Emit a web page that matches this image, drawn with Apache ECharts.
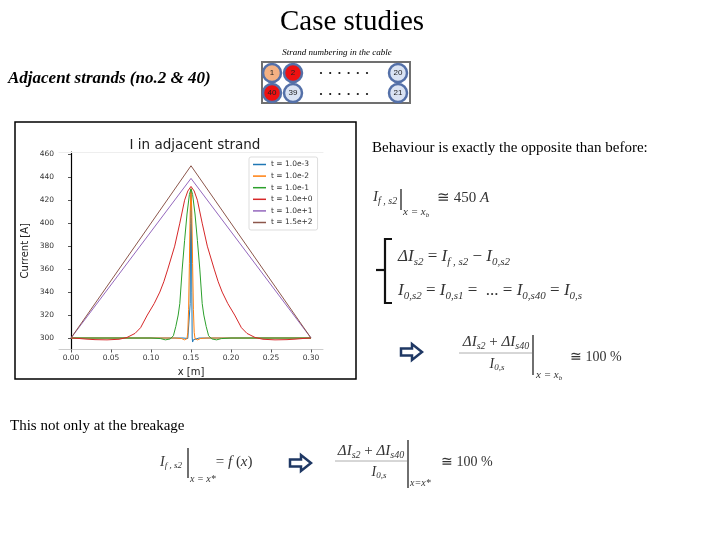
<!DOCTYPE html>
<html>
<head>
<meta charset="utf-8">
<script src="https://cdn.jsdelivr.net/npm/echarts@6/dist/echarts.min.js"></script>
<style>
  html, body { margin: 0; padding: 0; background: #fff; }
  #main { width: 720px; height: 540px; }
</style>
</head>
<body>
<div id="main"></div>
<script>
// legend names
var seriesNames = ['t = 1.0e-3', 't = 1.0e-2', 't = 1.0e-1', 't = 1.0e+0', 't = 1.0e+1', 't = 1.5e+2'];
var seriesColors = ['#1f77b4', '#ff7f0e', '#2ca02c', '#d62728', '#9467bd', '#8c564b'];

// ticks
var xTicks = [0, 0.05, 0.10, 0.15, 0.20, 0.25, 0.30];
var yTicks = [300, 320, 340, 360, 380, 400, 420, 440, 460];

// t = 1.0e-3
var x1 = [0, 0.14, 0.146, 0.148, 0.149, 0.1495, 0.15, 0.1505, 0.151, 0.1515, 0.152, 0.153, 0.155, 0.16, 0.3];
var y1 = [300, 300, 299.6, 299, 330, 400, 428, 405, 340, 300, 296.5, 298.5, 299.8, 300, 300];
// t = 1.0e-2
var x2 = [0, 0.13, 0.138, 0.142, 0.145, 0.146, 0.147, 0.148, 0.149, 0.15, 0.151, 0.152, 0.153, 0.154, 0.155, 0.158, 0.162, 0.17, 0.3];
var y2 = [300, 300, 299.6, 298.4, 299.5, 305, 325, 365, 410, 430, 410, 365, 325, 305, 299.5, 298.4, 299.6, 300, 300];
// t = 1.0e-1
var x3 = [0, 0.1, 0.112, 0.118, 0.124, 0.128, 0.131, 0.134, 0.136, 0.139, 0.142, 0.145, 0.148, 0.15, 0.152, 0.155, 0.158, 0.161, 0.164, 0.166, 0.169, 0.172, 0.176, 0.182, 0.188, 0.2, 0.3];
var y3 = [300, 300, 299.5, 298.4, 299.2, 302, 310, 320, 330, 360, 385, 408, 425, 430, 425, 408, 385, 360, 330, 320, 310, 302, 299.2, 298.4, 299.5, 300, 300];
// t = 1.0e+0
var x4 = [0, 0.01, 0.02, 0.03, 0.045, 0.06, 0.07, 0.08, 0.087, 0.0954, 0.104, 0.111, 0.116, 0.121, 0.1296, 0.136, 0.142, 0.146, 0.15,
          0.154, 0.158, 0.164, 0.1704, 0.179, 0.184, 0.189, 0.196, 0.2046, 0.213, 0.22, 0.23, 0.24, 0.255, 0.27, 0.28, 0.29, 0.3];
var y4 = [300, 299.6, 299, 298.6, 298.4, 298.9, 300.5, 304, 309, 320, 330, 340, 349, 360, 380, 400, 420, 428, 432,
          428, 420, 400, 380, 360, 349, 340, 330, 320, 309, 304, 300.5, 298.9, 298.4, 298.6, 299, 299.6, 300];
// t = 1.0e+1
var x5 = [0, 0.15, 0.3];
var y5 = [300, 439, 300];
// t = 1.5e+2
var x6 = [0, 0.15, 0.3];
var y6 = [300, 450, 300];

var xsAll = [x1, x2, x3, x4, x5, x6];
var ysAll = [y1, y2, y3, y4, y5, y6];

var myChart = echarts.init(document.getElementById('main'));

// measuring text for formula layout
var ctx = document.createElement('canvas').getContext('2d');
var SERIF = '"Liberation Serif", "Times New Roman", serif';
var FCOL = '#333';

function txt(x, y, s, font, opt) {
    opt = opt || {};
    return {
        type: 'text', x: x, y: y, z: 10,
        style: {
            text: s, font: font, fill: opt.fill || '#000',
            textAlign: opt.align || 'left', textVerticalAlign: 'middle'
        }
    };
}

// tokens: [text, kind]  kind: i = italic, r = roman, s = subscript
function tokFont(kind, size) {
    var sz = kind === 's' ? Math.round(size * 0.66) : size;
    return (kind === 'r' ? '' : 'italic ') + sz + 'px ' + SERIF;
}
function rowWidth(size, tokens) {
    var w = 0;
    tokens.forEach(function (tk) {
        ctx.font = tokFont(tk[1], size);
        w += ctx.measureText(tk[0]).width;
    });
    return w;
}
function row(x, y, size, tokens, center) {
    var cx = center ? x - rowWidth(size, tokens) / 2 : x;
    var out = [];
    tokens.forEach(function (tk) {
        var f = tokFont(tk[1], size);
        ctx.font = f;
        var dy = tk[1] === 's' ? size * 0.28 : 0;
        out.push(txt(cx, y + dy, tk[0], f, { fill: FCOL }));
        cx += ctx.measureText(tk[0]).width;
    });
    return out;
}
function line(x1_, y1_, x2_, y2_, color, w) {
    return { type: 'line', z: 10, shape: { x1: x1_, y1: y1_, x2: x2_, y2: y2_ }, style: { stroke: color, lineWidth: w } };
}
function arrow(x0, cy) {
    return {
        type: 'polygon', z: 10,
        shape: { points: [[x0, cy - 3.5], [x0 + 11, cy - 3.5], [x0 + 11, cy - 8], [x0 + 21, cy], [x0 + 11, cy + 8], [x0 + 11, cy + 3.5], [x0, cy + 3.5]] },
        style: { fill: '#fff', stroke: '#1f3864', lineWidth: 2.5 }
    };
}
function strand(cx, cy, label, fill) {
    return [
        { type: 'circle', z: 10, shape: { cx: cx, cy: cy, r: 9 }, style: { fill: fill, stroke: '#5470a8', lineWidth: 2.5 } },
        txt(cx, cy, label, '8px "Liberation Sans"', { align: 'center', fill: '#222' })
    ];
}

var els = [];
// slide title and labels
els.push(txt(352, 22, 'Case studies', '29px ' + SERIF, { align: 'center' }));
els.push(txt(337, 53, 'Strand numbering in the cable', 'italic 9px ' + SERIF, { align: 'center' }));
els.push(txt(8, 79, 'Adjacent strands (no.2 & 40)', 'bold italic 17px ' + SERIF));

// strand box
els.push({ type: 'rect', z: 9, shape: { x: 262, y: 62, width: 148, height: 41 }, style: { fill: '#fff', stroke: '#707070', lineWidth: 2 } });
els = els.concat(strand(272, 73, '1', '#f4b183'), strand(293, 73, '2', '#ee1111'),
    strand(272, 93, '40', '#ee1111'), strand(293, 93, '39', '#dae3f3'),
    strand(398, 73, '20', '#dae3f3'), strand(398, 93, '21', '#dae3f3'));
for (var i = 0; i < 6; i++) {
    els.push({ type: 'circle', z: 10, shape: { cx: 321 + i * 9.2, cy: 73, r: 1.1 }, style: { fill: '#111' } });
    els.push({ type: 'circle', z: 10, shape: { cx: 321 + i * 9.2, cy: 94, r: 1.1 }, style: { fill: '#111' } });
}

// chart image border
els.push({ type: 'rect', z: -1, shape: { x: 15, y: 122, width: 341, height: 257 }, style: { fill: '#fff', stroke: '#000', lineWidth: 1.5 } });

// right side text
els.push(txt(372, 148, 'Behaviour is exactly the opposite than before:', '15px ' + SERIF));

// formula 1
els = els.concat(row(373, 197, 15, [['I', 'i'], ['f , s2', 's']]));
els.push(line(401, 189, 401, 210, '#222', 1.3));
els = els.concat(row(403, 212, 11, [['x = x', 'i'], ['b', 's']]));
els = els.concat(row(437, 198, 15, [['\u2245 450 ', 'r'], ['A', 'i']]));

// brace
els.push({ type: 'polyline', z: 10, shape: { points: [[392, 239], [385, 239], [385, 303], [392, 303]] }, style: { stroke: '#111', lineWidth: 2.2, fill: null } });
els.push(line(376, 270, 385, 270, '#111', 2.2));
els = els.concat(row(398, 257, 17, [['\u0394I', 'i'], ['s2', 's'], [' = ', 'r'], ['I', 'i'], ['f , s2', 's'], [' \u2212 ', 'r'], ['I', 'i'], ['0,s2', 's']]));
els = els.concat(row(398, 291, 17, [['I', 'i'], ['0,s2', 's'], [' = ', 'r'], ['I', 'i'], ['0,s1', 's'], [' =  ... = ', 'r'], ['I', 'i'], ['0,s40', 's'], [' = ', 'r'], ['I', 'i'], ['0,s', 's']]));

// arrow + fraction 1
els.push(arrow(401, 352));
els = els.concat(row(496, 342, 15, [['\u0394I', 'i'], ['s2', 's'], [' + ', 'r'], ['\u0394I', 'i'], ['s40', 's']], true));
els.push(line(459, 353, 532, 353, '#999', 0.8));
els = els.concat(row(497, 364, 14, [['I', 'i'], ['0,s', 's']], true));
els.push(line(533, 335, 533, 375, '#222', 1.3));
els = els.concat(row(536, 375, 11, [['x = x', 'i'], ['b', 's']]));
els = els.concat(row(570, 357, 14, [['\u2245 100 %', 'r']]));

// bottom line
els.push(txt(10, 426, 'This not only at the breakage', '15px ' + SERIF));
els = els.concat(row(160, 462, 14, [['I', 'i'], ['f , s2', 's']]));
els.push(line(188, 448, 188, 478, '#222', 1.3));
els = els.concat(row(190, 479, 10, [['x = x*', 'i']]));
els = els.concat(row(212, 462, 15, [[' = ', 'r'], ['f', 'i'], [' (', 'r'], ['x', 'i'], [')', 'r']]));
els.push(arrow(290, 463));
els = els.concat(row(371, 451, 15, [['\u0394I', 'i'], ['s2', 's'], [' + ', 'r'], ['\u0394I', 'i'], ['s40', 's']], true));
els.push(line(335, 461, 407, 461, '#999', 0.8));
els = els.concat(row(379, 472, 14, [['I', 'i'], ['0,s', 's']], true));
els.push(line(408, 440, 408, 488, '#222', 1.3));
els = els.concat(row(410, 483, 10, [['x=x*', 'i']]));
els = els.concat(row(441, 462, 14, [['\u2245 100 %', 'r']]));

var series = seriesNames.map(function (name, k) {
    return {
        name: name,
        type: 'line',
        showSymbol: false,
        data: xsAll[k].map(function (x, j) { return [x, ysAll[k][j]]; }),
        lineStyle: { width: 1, color: seriesColors[k] },
        itemStyle: { color: seriesColors[k] },
        z: 2 + k
    };
});

var tickFont = { fontFamily: 'DejaVu Sans', fontSize: 7.5, color: '#333' };

var option = {
    backgroundColor: '#fff',
    animation: false,
    title: {
        text: 'I in adjacent strand',
        left: 190, top: 133, textAlign: 'center',
        textStyle: { fontFamily: 'DejaVu Sans', fontWeight: 'normal', fontSize: 13.5, color: '#222' }
    },
    legend: {
        data: seriesNames,
        orient: 'vertical',
        left: 249, top: 157,
        itemWidth: 13, itemHeight: 1.5, itemGap: 2.6,
        icon: 'rect',
        padding: [3, 5, 3, 4],
        borderColor: '#ddd', borderWidth: 1, borderRadius: 2,
        backgroundColor: '#fff',
        textStyle: { fontFamily: 'DejaVu Sans', fontSize: 7.5, color: '#333', lineHeight: 9 }
    },
    grid: { left: 59, top: 152, width: 264, height: 197.5 },
    xAxis: [{
        type: 'value', min: -0.015, max: 0.315,
        name: 'x [m]', nameLocation: 'middle', nameGap: 18,
        nameTextStyle: { fontFamily: 'DejaVu Sans', fontSize: 10, color: '#222' },
        axisLine: { lineStyle: { color: '#ccc' } },
        axisTick: { customValues: xTicks, length: 3, lineStyle: { color: '#555' } },
        axisLabel: { customValues: xTicks, formatter: function (v) { return v.toFixed(2); }, margin: 5, fontFamily: tickFont.fontFamily, fontSize: tickFont.fontSize, color: tickFont.color },
        splitLine: { show: false }
    }, {
        type: 'value', position: 'top', min: -0.015, max: 0.315,
        axisLine: { lineStyle: { color: '#eee' } },
        axisTick: { show: false }, axisLabel: { show: false }, splitLine: { show: false }
    }],
    yAxis: [{
        type: 'value', min: 290, max: 462,
        name: 'Current [A]', nameLocation: 'middle', nameGap: 29,
        nameTextStyle: { fontFamily: 'DejaVu Sans', fontSize: 10, color: '#222' },
        axisLine: { show: true, lineStyle: { color: '#eee' } },
        axisTick: { show: true, customValues: yTicks, length: 3, lineStyle: { color: '#555' } },
        axisLabel: { customValues: yTicks, margin: 5, fontFamily: tickFont.fontFamily, fontSize: tickFont.fontSize, color: tickFont.color },
        splitLine: { show: false }
    }, {
        type: 'value', position: 'right', min: 290, max: 462,
        axisLine: { show: true, lineStyle: { color: '#000', width: 1.2 } },
        axisTick: { show: false }, axisLabel: { show: false }, splitLine: { show: false }
    }],
    graphic: { elements: els },
    series: series
};

myChart.setOption(option);
</script>
</body>
</html>
